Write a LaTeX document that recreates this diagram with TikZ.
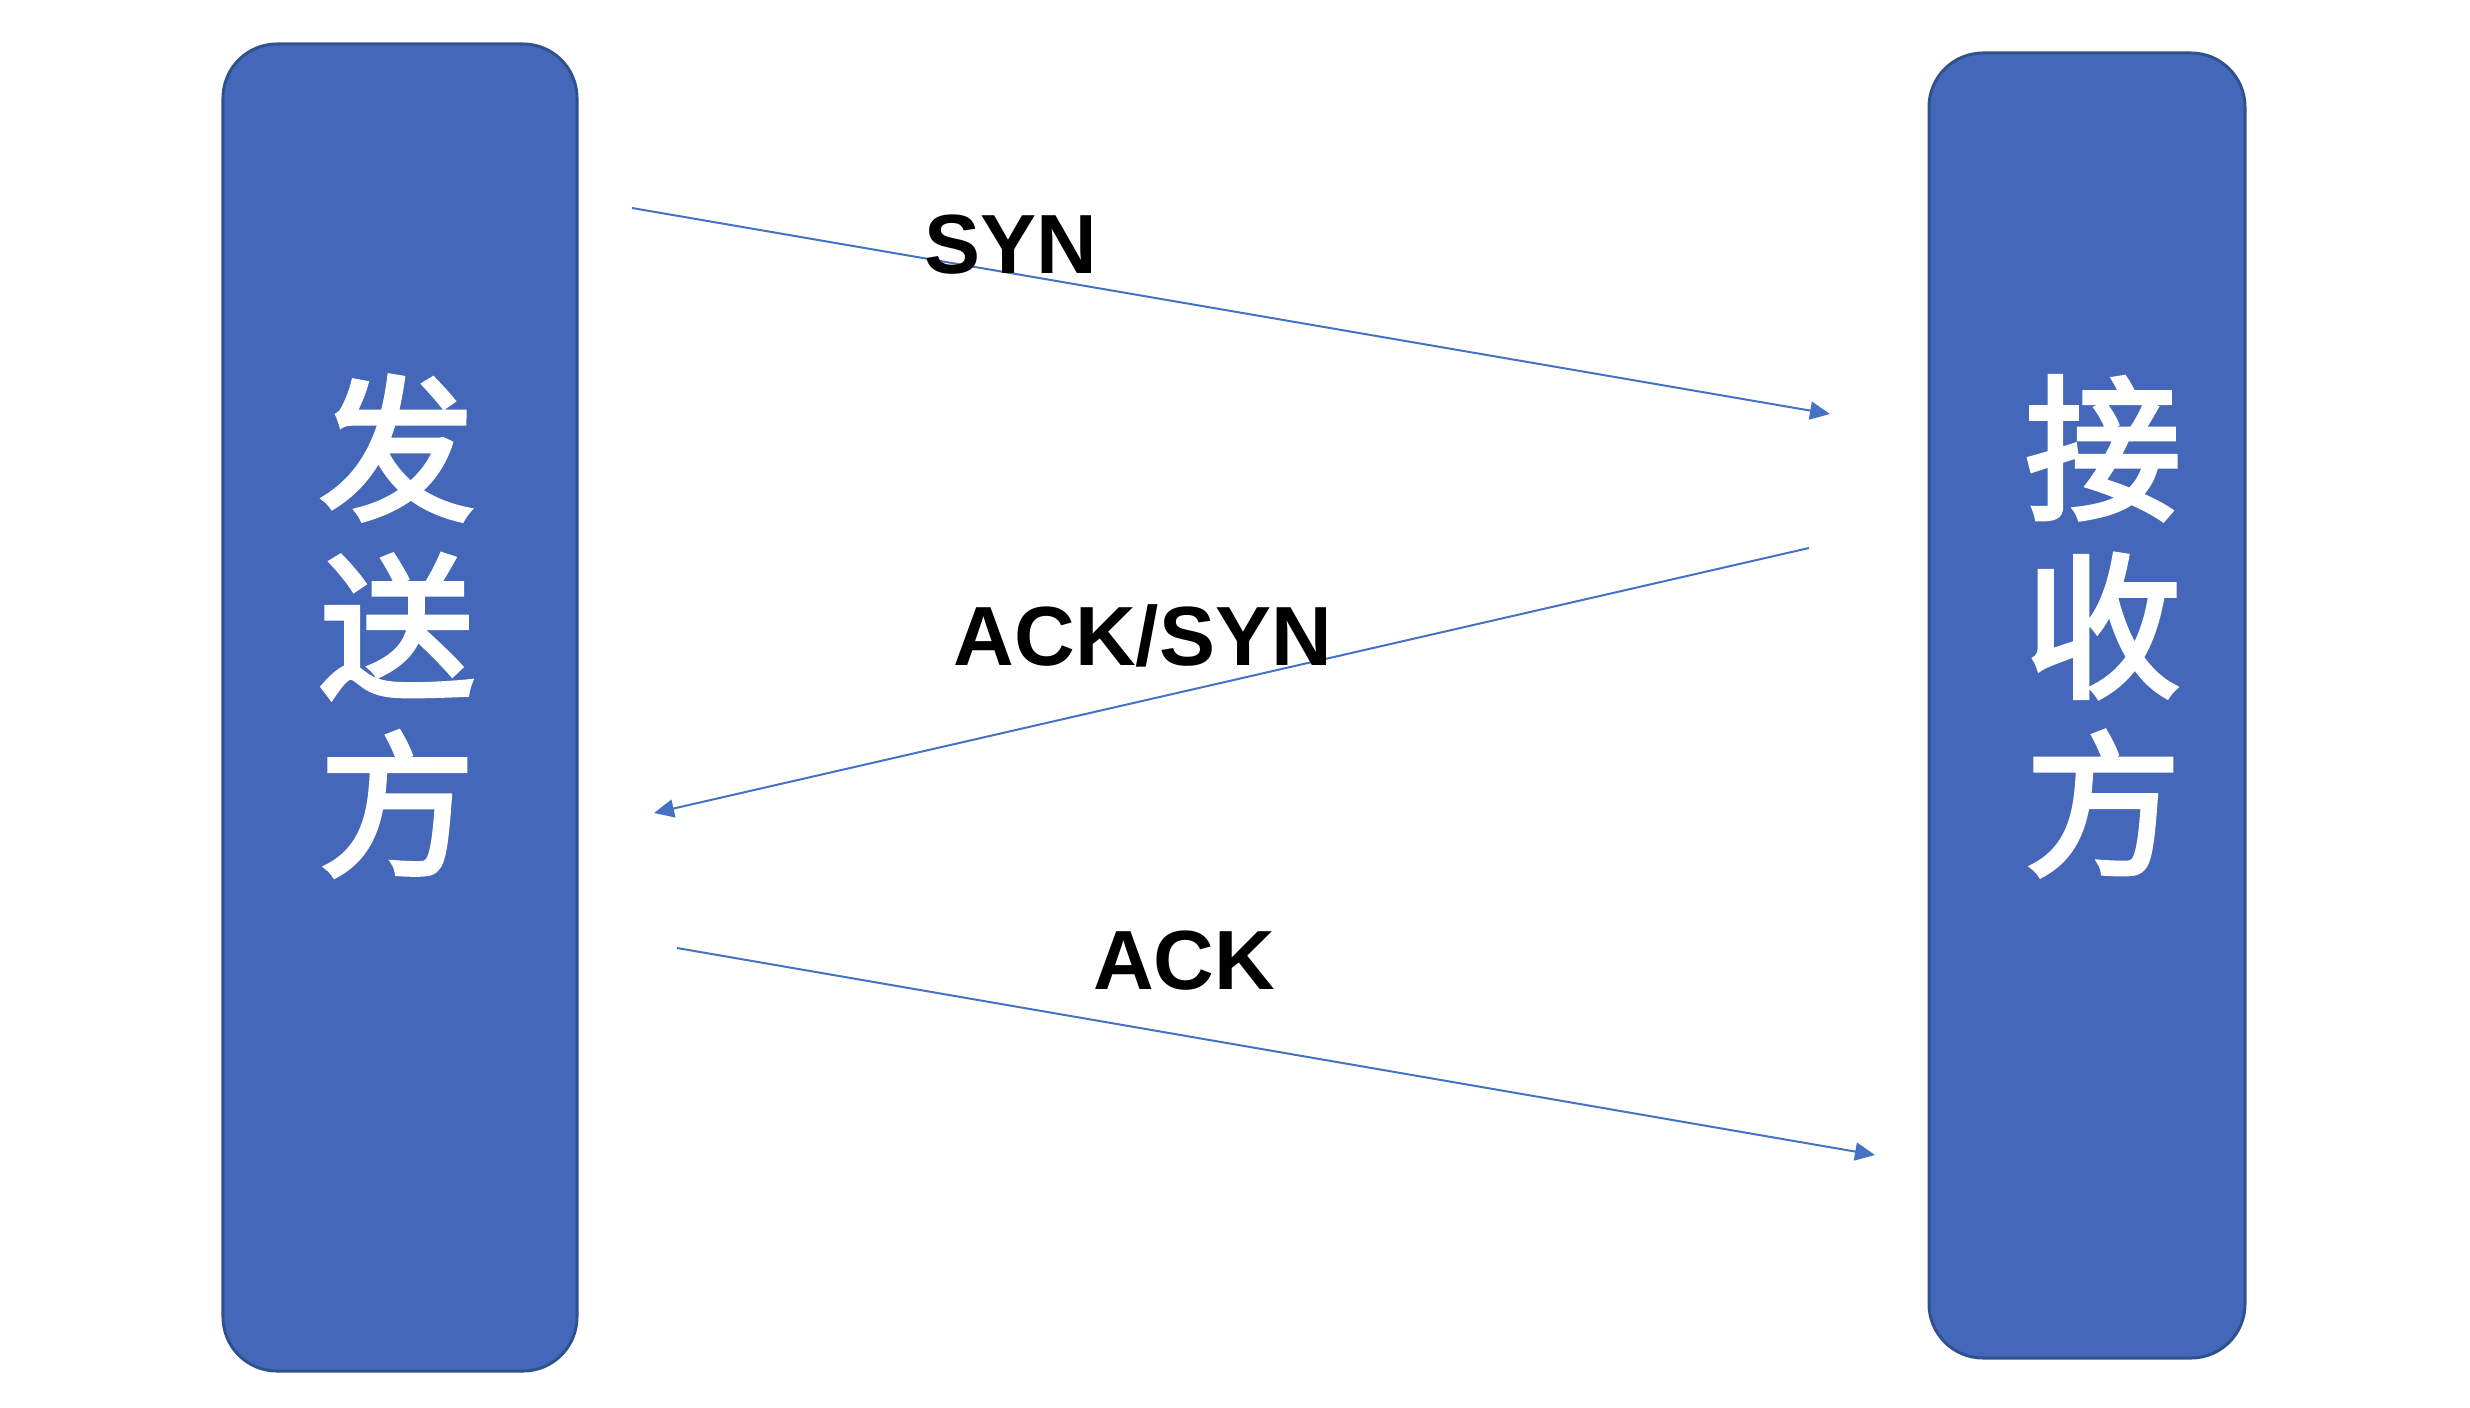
\documentclass[tikz,border=0pt]{standalone}
\usepackage{fontspec}
\setmainfont{Liberation Sans}
\newfontfamily\cjkfont{Noto Sans CJK SC}[FakeBold=3]
\definecolor{party}{HTML}{4567B9}
\definecolor{partyedge}{HTML}{2F528F}
\definecolor{msg}{HTML}{4472C4}
\usetikzlibrary{arrows.meta}

\begin{document}
\begin{tikzpicture}[x=0.5bp,y=-0.5bp,>={Triangle[length=10bp,width=9bp]},every node/.style={font=\bfseries\fontsize{42bp}{50bp}\selectfont}]
\useasboundingbox (0,0) rectangle (2470,1408);
\node[draw=partyedge,fill=party,line width=1.5bp,rounded corners=27bp,minimum width=177bp,minimum height=663.5bp] (sender) at (400,707.5) {};
\node[draw=partyedge,fill=party,line width=1.5bp,rounded corners=27bp,minimum width=158bp,minimum height=652.5bp] (receiver) at (2087,705.5) {};
\node[text=white,align=center,font=\cjkfont\fontsize{78bp}{89bp}\selectfont] (sendname) at (397,626) {发\\送\\方};
\node[text=white,align=center,font=\cjkfont\fontsize{78bp}{89bp}\selectfont] (recvname) at (2103,626) {接\\收\\方};
% message endpoints
\coordinate (syn1) at (632,208);
\coordinate (syn2) at (1830,414);
\coordinate (sa1) at (1809,548);
\coordinate (sa2) at (654,813);
\coordinate (ack1) at (677,948);
\coordinate (ack2) at (1875,1155);
\draw[->,msg,line width=1bp] (syn1) -- (syn2);
\draw[->,msg,line width=1bp] (sa1) -- (sa2);
\draw[->,msg,line width=1bp] (ack1) -- (ack2);
\node[anchor=base] (synlbl) at (1011,273) {SYN};
\node[anchor=base] (salbl) at (1143,665) {ACK/SYN};
\node[anchor=base] (acklbl) at (1184,989) {ACK};
\end{tikzpicture}
\end{document}
